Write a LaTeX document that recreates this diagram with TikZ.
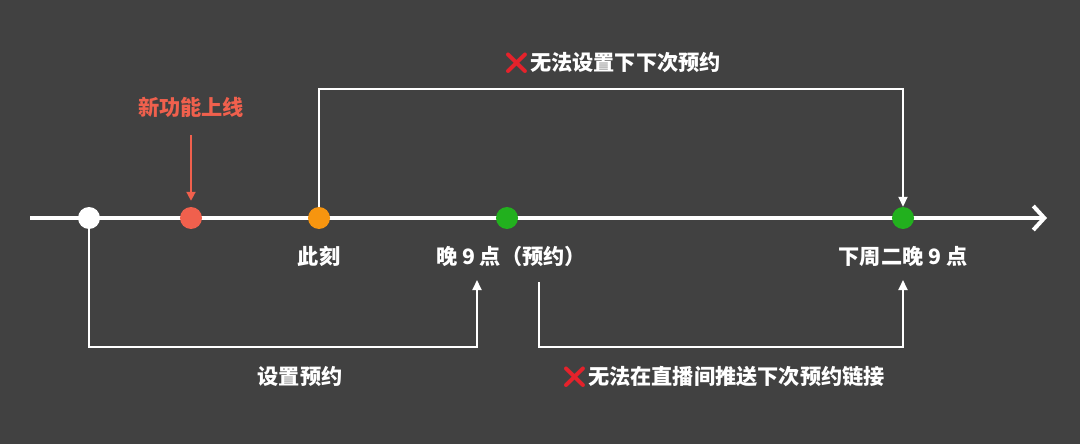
\documentclass[tikz,border=0pt]{standalone}
\usepackage{fontspec}
\setmainfont{Noto Sans CJK SC}
\newfontfamily\emoji{Noto Emoji}
\usetikzlibrary{arrows.meta}
\definecolor{bg}{HTML}{414141}
\definecolor{newred}{HTML}{F0604D}
\definecolor{nowor}{HTML}{F7950F}
\definecolor{okgreen}{HTML}{22B01E}
\definecolor{xred}{HTML}{E5222B}
\tikzset{
  dot/.style={circle, minimum size=22pt, inner sep=0pt, draw=none},
  lbl/.style={text=white, font=\bfseries\fontsize{21.2}{25}\selectfont, inner sep=1pt},
  bracket/.style={draw=white, line width=1.8pt},
  tri/.style={-{Triangle[width=9pt,length=10pt]}},
}
\newcommand{\xmark}{{\emoji\color{xred}\char"274C}}
\begin{document}
\begin{tikzpicture}[x=1pt,y=-1pt]
\fill[bg] (0,0) rectangle (1080,444);
\useasboundingbox (0,0) rectangle (1080,444);
% axis
\coordinate (axs) at (30,218);
\coordinate (axe) at (1047,218);
\draw[white, line width=4pt, -{Straight Barb[length=11pt,width=24pt]}] (axs) -- (axe);
% dots
\node[dot, fill=white] (d1) at (89,218) {};
\node[dot, fill=newred] (d2) at (191,218) {};
\node[dot, fill=nowor] (d3) at (319,218) {};
\node[dot, fill=okgreen] (d4) at (507,218) {};
\node[dot, fill=okgreen] (d5) at (903,218) {};
% new feature label and arrow
\node[lbl, text=newred] (nf) at (191,107) {新功能上线};
\coordinate (nfa) at (191,135);
\draw[newred, line width=2pt, -{Triangle[width=9pt,length=9pt]}, shorten >=6pt] (nfa) -- (d2.north);
% point labels
\node[lbl] (l3) at (319,256) {此刻};
\node[lbl] (l4) at (511,256) {晚 9 点（预约）};
\node[lbl] (l5) at (903,256) {下周二晚 9 点};
% top bracket
\coordinate (tc) at (319,89);
\draw[bracket, tri] (d3.north) -- (tc) -| (d5.north);
\node[lbl] (tl) at (612,63) {\xmark 无法设置下下次预约};
% bottom-left bracket
\coordinate (b1) at (477,347);
\coordinate (b1e) at (477,280);
\draw[bracket, tri] (d1.south) |- (b1) -- (b1e);
\node[lbl] (bl) at (300,377) {设置预约};
% bottom-right bracket
\coordinate (b2s) at (539,282);
\coordinate (b2) at (903,347);
\coordinate (b2e) at (903,280);
\draw[bracket, tri] (b2s) |- (b2) -- (b2e);
\node[lbl] (br) at (723,377) {\xmark 无法在直播间推送下次预约链接};
\end{tikzpicture}
\end{document}
